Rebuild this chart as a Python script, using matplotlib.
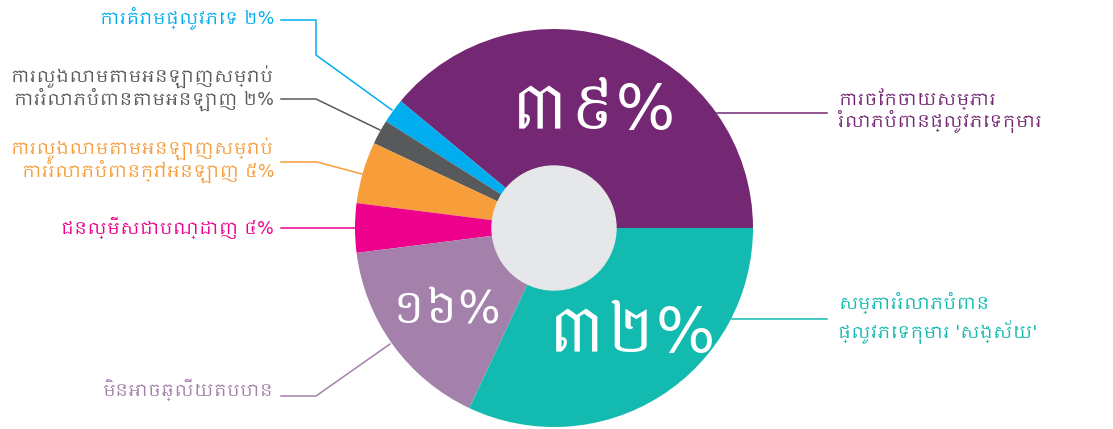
import numpy as np
import matplotlib
matplotlib.use("Agg")
import matplotlib.pyplot as plt
from matplotlib import font_manager
from matplotlib.ft2font import FT2Font
from matplotlib.patches import Circle

# data
labels = ["ការចែកចាយសម្ភារ\nរំលោភបំពានផ្លូវភេទកុមារ",
          "ការគំរាមផ្លូវភេទ ២%",
          "ការលួងលោមតាមអនឡាញសម្រាប់\nការរំលោភបំពានតាមអនឡាញ ២%",
          "ការលួងលោមតាមអនឡាញសម្រាប់\nការរំលោភបំពានក្រៅអនឡាញ ៥%",
          "ជនល្មើសជាបណ្ដាញ ៤%",
          "មិនអាចឆ្លើយតបបាន",
          "សម្ភាររំលោភបំពាន\nផ្លូវភេទកុមារ 'សង្ស័យ'"]
values = [39, 2, 2, 5, 4, 16, 32]
colors = ["#742873", "#00AEEF", "#58595B", "#F79D3A", "#EC008C", "#A481AA", "#13BAB0"]
big_labels = {0: "៣៩%", 5: "១៦%", 6: "៣២%"}

# look for fonts with Khmer glyphs, prefer a real Khmer face over unifont
found = []
for f in font_manager.fontManager.ttflist:
    try:
        if 0x1780 in FT2Font(f.fname).get_charmap():
            found.append(f.name)
    except Exception:
        pass
found = sorted(set(found), key=lambda n: (0 if "khmer" in n.lower() else 1,
                                          1 if "unifont" in n.lower() else 0, n))
fams = ["DejaVu Sans"] + found[:1]
plt.rcParams["font.family"] = fams

W, H = 1113, 429
fig = plt.figure(figsize=(W / 100, H / 100), dpi=100)
ax = fig.add_axes([0, 0, 1, 1])

cx, cy, r = 554, H - 228, 199
wedges, _ = ax.pie(values, colors=colors, startangle=0, counterclock=True,
                   center=(cx, cy), radius=r,
                   wedgeprops=dict(linewidth=0))
ax.add_patch(Circle((cx, cy), 62, color="#E6E7E8", zorder=3))

ax.set_xlim(0, W)
ax.set_ylim(0, H)
ax.set_aspect("equal")
ax.axis("off")

# big percentage labels inside
ax.text(593, H - 112, big_labels[0], color="white", fontsize=45, ha="center", va="center")
ax.text(632, H - 335, big_labels[6], color="white", fontsize=45, ha="center", va="center")
ax.text(446, H - 310, big_labels[5], color="white", fontsize=32, ha="center", va="center")

# leader lines (pixel coords, y from top)
leaders = {
    1: [(281, 20), (316, 20), (316, 55), (392, 110)],
    2: [(281, 99), (316, 99), (380, 130)],
    3: [(281, 162), (317, 162), (362, 174)],
    4: [(281, 228), (356, 228)],
    5: [(281, 396), (316, 396), (390, 344)],
    0: [(717, 113), (827, 113)],
    6: [(732, 319), (827, 319)],
}
for i, pts in leaders.items():
    xs = [p[0] for p in pts]
    ys = [H - p[1] for p in pts]
    ax.plot(xs, ys, color=colors[i], lw=1.1, zorder=4)

# side labels, shrunk if they do not fit
renderer = fig.canvas.get_renderer()


def side_label(x, y, s, c, ha, maxw, ls):
    t = ax.text(x, H - y, s, color=c, fontsize=12.5, ha=ha, va="center", linespacing=ls)
    w = t.get_window_extent(renderer).width
    if w > maxw:
        t.set_fontsize(12.5 * maxw / w)
    return t


left_pos = {1: 18, 2: 88, 3: 160, 4: 228, 5: 390}
for i, y in left_pos.items():
    side_label(274, y, labels[i], colors[i], "right", 266, 1.0)
side_label(838, 111, labels[0], colors[0], "left", 270, 1.0)
side_label(838, 318, labels[6], colors[6], "left", 270, 1.3)

fig.savefig("out.png", dpi=100, facecolor="white")
